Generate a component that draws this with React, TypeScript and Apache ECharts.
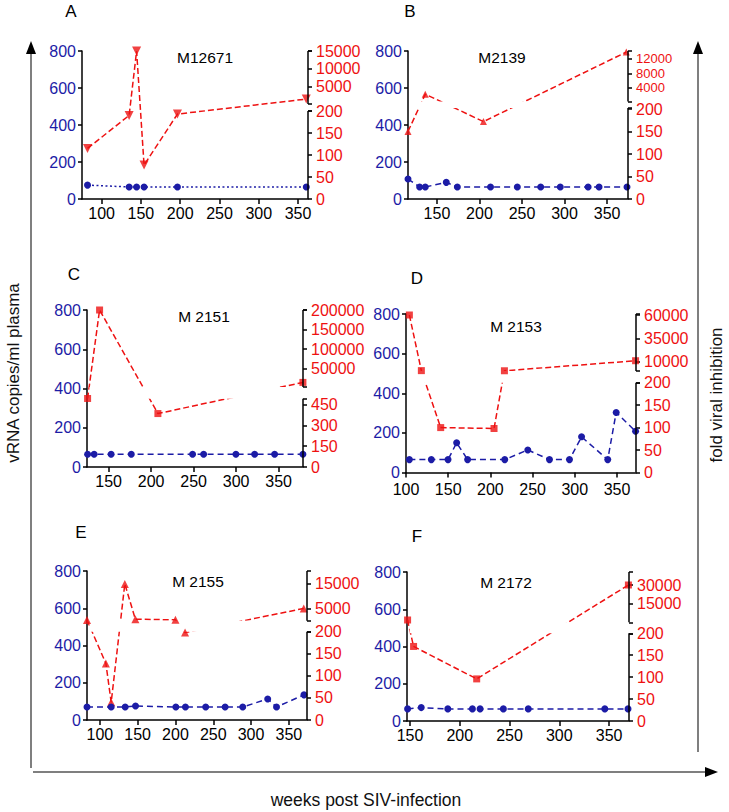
import React, { useEffect, useRef } from 'react';
import * as echarts from 'echarts';

// ---------------- data (weeks post infection, vRNA copies/ml, fold inhibition) ----------------
const aWeeksBlue = [82, 135, 144.5, 154, 196.5, 360.5];
const aVRNA = [75, 65, 65, 65, 65, 65];
const aWeeksRed = [82, 135, 144.5, 154, 196.5, 360.5];
const aFold = [115, 190, 15000, 77, 193, 1400];

const bWeeksBlue = [116, 129.7, 136.3, 161, 174, 213, 244.5, 272, 295, 327.7, 340.6, 373.4];
const bVRNA = [108, 65, 65, 90, 65, 65, 65, 65, 65, 65, 65, 65];
const bWeeksRed = [116, 136.3, 204.7, 372.6];
const bFold = [150, 2300, 172, 13800];

const cWeeksBlue = [125.3, 133, 153, 176.7, 248.8, 261.8, 299.8, 321.8, 345.3, 378.6];
const cVRNA = [65, 65, 65, 65, 65, 65, 65, 65, 65, 65];
const cWeeksRed = [125.3, 139.4, 208, 378.6];
const cFold = [495, 200000, 386, 15300];

const dWeeksBlue = [104, 130, 149.8, 160, 173, 217, 244.3, 270, 293.7, 308, 339, 349, 372];
const dVRNA = [65, 65, 65, 150, 65, 65, 114, 65, 65, 180, 65, 303, 208];
const dWeeksRed = [104, 118.2, 141.1, 204.3, 216.6, 372];
const dFold = [60000, 400, 100, 98, 250, 11000];

const eWeeksBlue = [83, 115, 133.5, 147.2, 200.5, 213.2, 240, 265.7, 289, 322, 333.7, 370];
const eVRNA = [70, 70, 70, 75, 70, 70, 70, 70, 70, 113, 70, 135];
const eWeeksRed = [83, 108, 115, 133, 147, 200, 212.7, 369.7];
const eFold = [300, 128, 40, 15000, 600, 350, 198, 5000];

const fWeeksBlue = [147.6, 161.3, 188, 212.7, 220.4, 243.8, 268.8, 345.7, 369];
const fVRNA = [65, 72, 65, 65, 65, 65, 65, 65, 65];
const fWeeksRed = [147.6, 153.6, 217, 369.4];
const fFold = [1400, 170, 96, 30000];

const xTicks100 = [100, 150, 200, 250, 300, 350];
const xTicks150 = [150, 200, 250, 300, 350];
const lowTicks50 = [0, 50, 100, 150, 200];
const lowTicksC = [0, 150, 300, 450];
const upTicksA = [5000, 10000, 15000];
const upTicksB = [4000, 8000, 12000];
const upTicksC = [50000, 100000, 150000, 200000];
const upTicksD = [10000, 35000, 60000];
const upTicksE = [5000, 15000];
const upTicksF = [15000, 30000];

const panelLetters = ['A', 'B', 'C', 'D', 'E', 'F'];
const monkeys = ['M12671', 'M2139', 'M 2151', 'M 2153', 'M 2155', 'M 2172'];

// ---------------- layout / styles ----------------
const BLUE = '#1c1ca6';
const RED = '#ee1111';
const FONT = '"Liberation Sans", Arial, sans-serif';
const NARROW = '"Liberation Sans Narrow", "Liberation Sans", Arial, sans-serif';
const TICK_FONT = 16;

const panels = [
  { grid: { left: 82, top: 51, width: 226, height: 148 }, xMin: 75, xMax: 362.7, xTicks: xTicks100, xMargin: 6,
    bx: aWeeksBlue, by: aVRNA, rx: aWeeksRed, ry: aFold, blueDash: [2, 2.5], sym: 'triangle', rot: 180, symSize: 9,
    lowLimit: 200, lowK: 0.44, upH0: 95, upK: 53 / 15000, lowSegTop: 88, upSegBot: 95, band: false, upFont: 16,
    lowTicks: lowTicks50, upTicks: upTicksA, letter: [71, 11], title: [205, 57] },
  { grid: { left: 408, top: 51, width: 220, height: 148 }, xMin: 116, xMax: 374.6, xTicks: xTicks150, xMargin: 6,
    bx: bWeeksBlue, by: bVRNA, rx: bWeeksRed, ry: bFold, blueDash: [6, 4], sym: 'triangle', rot: 0, symSize: 7,
    lowLimit: 200, lowK: 0.45, upH0: 96.4, upK: 0.00366, lowSegTop: 91, upSegBot: 97.6, band: true, upFont: 13,
    lowTicks: lowTicks50, upTicks: upTicksB, letter: [410, 11], title: [502, 57] },
  { grid: { left: 87, top: 310, width: 216, height: 157 }, xMin: 124.6, xMax: 378.7, xTicks: xTicks150, xMargin: 6,
    bx: cWeeksBlue, by: cVRNA, rx: cWeeksRed, ry: cFold, blueDash: [6, 4], sym: 'rect', rot: 0, symSize: 7,
    lowLimit: 500, lowK: 62.3 / 450, upH0: 78.6, upK: 0.000392, lowSegTop: 68.3, upSegBot: 80, band: true, upFont: 16,
    lowTicks: lowTicksC, upTicks: upTicksC, letter: [74, 274], title: [204, 316] },
  { grid: { left: 406, top: 314, width: 230, height: 158.5 }, xMin: 100, xMax: 372.5, xTicks: xTicks100, xMargin: 9,
    bx: dWeeksBlue, by: dVRNA, rx: dWeeksRed, ry: dFold, blueDash: [6, 4], sym: 'rect', rot: 0, symSize: 7,
    lowLimit: 200, lowK: 0.449, upH0: 101.5, upK: 56 / 60000, lowSegTop: 89.8, upSegBot: 101.5, band: true, upFont: 16,
    lowTicks: lowTicks50, upTicks: upTicksD, letter: [417, 278], title: [516, 326] },
  { grid: { left: 87, top: 571, width: 220, height: 149 }, xMin: 83, xMax: 374, xTicks: xTicks100, xMargin: 6,
    bx: eWeeksBlue, by: eVRNA, rx: eWeeksRed, ry: eFold, blueDash: [6, 4], sym: 'triangle', rot: 0, symSize: 8,
    lowLimit: 200, lowK: 0.4415, upH0: 99.3, upK: 49 / 20000, lowSegTop: 88.3, upSegBot: 99.3, band: true, upFont: 16,
    lowTicks: lowTicks50, upTicks: upTicksE, letter: [81, 532], title: [198, 581] },
  { grid: { left: 407, top: 572, width: 222, height: 149 }, xMin: 147, xMax: 370, xTicks: xTicks150, xMargin: 6,
    bx: fWeeksBlue, by: fVRNA, rx: fWeeksRed, ry: fFold, blueDash: [6, 4], sym: 'rect', rot: 0, symSize: 7,
    lowLimit: 200, lowK: 0.4385, upH0: 99.3, upK: 36.7 / 30000, lowSegTop: 87.7, upSegBot: 98.7, band: true, upFont: 16,
    lowTicks: lowTicks50, upTicks: upTicksF, letter: [417, 536], title: [506, 582] },
];

function zip(xs: number[], ys: number[]) {
  return xs.map((x, i) => [x, ys[i]]);
}

function buildOption() {
  const grid: any[] = [];
  const xAxis: any[] = [];
  const yAxis: any[] = [];
  const series: any[] = [];
  const graphic: any[] = [];
  const axisLineStyle = { color: '#000', width: 1.5 };

  panels.forEach((p, i) => {
    const toU = (v: number) => (v <= p.lowLimit ? v * p.lowK : p.upH0 + v * p.upK);
    const labs = [
      ...p.lowTicks.map((v) => ({ u: toU(v), t: String(v) })),
      ...p.upTicks.map((v) => ({ u: toU(v), t: '{u|' + String(v) + '}' })),
    ];
    const labU = labs.map((l) => l.u);
    const tickU = [...labU, p.lowSegTop, p.upSegBot, p.grid.height];
    const H = p.grid.height;
    const range = p.xMax - p.xMin;
    const fmt = (val: number) => {
      let best = labs[0];
      labs.forEach((l) => { if (Math.abs(l.u - val) < Math.abs(best.u - val)) best = l; });
      return best.t;
    };
    const rich = { u: { fontSize: p.upFont, color: RED, fontFamily: FONT } };
    const yLeft = 3 * i;
    const yRight = 3 * i + 1;

    grid.push({ ...p.grid });
    xAxis.push({
      type: 'value', gridIndex: i, min: p.xMin, max: p.xMax,
      axisLine: { show: true, onZero: false, lineStyle: axisLineStyle },
      axisTick: { show: true, length: 5, customValues: p.xTicks, lineStyle: axisLineStyle },
      axisLabel: { customValues: p.xTicks, color: '#000', fontSize: TICK_FONT, margin: p.xMargin, fontFamily: FONT, hideOverlap: false },
      splitLine: { show: false },
    });
    yAxis.push({
      type: 'value', gridIndex: i, position: 'left', min: 0, max: 800, interval: 200,
      axisLine: { show: true, onZero: false, lineStyle: axisLineStyle },
      axisTick: { show: true, length: 4, lineStyle: axisLineStyle },
      axisLabel: { color: BLUE, fontSize: TICK_FONT, margin: 6, fontFamily: FONT, hideOverlap: false },
      splitLine: { show: false },
    });
    // right axis (broken scale): ticks + labels at even positions
    yAxis.push({
      type: 'value', gridIndex: i, position: 'right', min: 0, max: H,
      axisLine: { show: false },
      axisTick: { show: true, length: 4, customValues: tickU, lineStyle: axisLineStyle },
      axisLabel: {
        customValues: labU.filter((_, k) => k % 2 === 0), color: RED, fontSize: TICK_FONT, margin: 8, fontFamily: FONT,
        hideOverlap: false, formatter: fmt, rich,
      },
      splitLine: { show: false },
    });
    // companion right axis carrying the remaining labels (same scale)
    yAxis.push({
      type: 'value', gridIndex: i, position: 'right', min: 0, max: H,
      axisLine: { show: false }, axisTick: { show: false },
      axisLabel: {
        customValues: labU.filter((_, k) => k % 2 === 1), color: RED, fontSize: TICK_FONT, margin: 8, fontFamily: FONT,
        hideOverlap: false, formatter: fmt, rich,
      },
      splitLine: { show: false },
    });

    const redU = zip(p.rx, p.ry.map(toU));
    series.push({
      type: 'line', xAxisIndex: i, yAxisIndex: yRight, data: redU, symbol: 'none', z: 2, silent: true,
      lineStyle: { color: RED, width: 1.5, type: [6, 3] },
    });
    if (p.band) {
      series.push({
        type: 'scatter', xAxisIndex: i, yAxisIndex: yRight, data: [], z: 3, silent: true,
        markArea: {
          z: 3, silent: true, itemStyle: { color: '#fff', opacity: 1 }, label: { show: false },
          data: [[{ coord: [p.xMin + range * 0.012, p.lowSegTop] }, { coord: [p.xMax - range * 0.012, p.upSegBot] }]],
        },
      });
    }
    series.push({
      type: 'scatter', xAxisIndex: i, yAxisIndex: yRight, data: redU, z: 4, silent: true,
      symbol: p.sym, symbolRotate: p.rot, symbolSize: p.symSize, itemStyle: { color: RED },
    });
    series.push({
      type: 'line', xAxisIndex: i, yAxisIndex: yLeft, data: zip(p.bx, p.by), z: 6, silent: true,
      symbol: 'circle', symbolSize: 7, itemStyle: { color: BLUE },
      lineStyle: { color: BLUE, width: 1.5, type: p.blueDash },
    });
    series.push({
      type: 'scatter', xAxisIndex: i, yAxisIndex: yRight, data: [], z: 7, silent: true,
      markLine: {
        z: 7, silent: true, symbol: ['none', 'none'], label: { show: false },
        lineStyle: { color: '#000', width: 1.5, type: 'solid' },
        data: [
          [{ coord: [p.xMax, 0] }, { coord: [p.xMax, p.lowSegTop] }],
          [{ coord: [p.xMax, p.upSegBot] }, { coord: [p.xMax, H] }],
        ],
      },
    });

    graphic.push({
      type: 'text', x: p.letter[0], y: p.letter[1],
      style: { text: panelLetters[i], fontSize: 17, fontFamily: FONT, fill: '#000', align: 'center', verticalAlign: 'middle' },
    });
    graphic.push({
      type: 'text', x: p.title[0], y: p.title[1],
      style: { text: monkeys[i], fontSize: 15.5, fontFamily: FONT, fill: '#000', align: 'center', verticalAlign: 'middle' },
    });
  });

  const arrowColor = '#555';
  graphic.push(
    { type: 'line', shape: { x1: 31, y1: 768, x2: 31, y2: 50 }, style: { stroke: arrowColor, lineWidth: 1.5 } },
    { type: 'polygon', shape: { points: [[31, 41], [26, 54], [36, 54]] }, style: { fill: '#000' } },
    { type: 'line', shape: { x1: 698, y1: 752, x2: 698, y2: 50 }, style: { stroke: arrowColor, lineWidth: 1.5 } },
    { type: 'polygon', shape: { points: [[698, 41], [693, 54], [703, 54]] }, style: { fill: '#000' } },
    { type: 'line', shape: { x1: 33, y1: 772, x2: 706, y2: 772 }, style: { stroke: arrowColor, lineWidth: 1.5 } },
    { type: 'polygon', shape: { points: [[718, 772], [705, 767], [705, 777]] }, style: { fill: '#000' } },
    {
      type: 'text', x: 13, y: 373, rotation: Math.PI / 2,
      style: { text: 'vRNA copies/ml plasma', fontSize: 17, fontFamily: NARROW, fill: '#111', align: 'center', verticalAlign: 'middle' },
    },
    {
      type: 'text', x: 716, y: 395, rotation: Math.PI / 2,
      style: { text: 'fold viral inhibition', fontSize: 17, fontFamily: NARROW, fill: '#111', align: 'center', verticalAlign: 'middle' },
    },
    {
      type: 'text', x: 366, y: 800,
      style: { text: 'weeks post SIV-infection', fontSize: 17.5, fontFamily: NARROW, fill: '#111', align: 'center', verticalAlign: 'middle' },
    },
  );

  return { animation: false, backgroundColor: '#fff', grid, xAxis, yAxis, series, graphic };
}

export default function App() {
  const ref = useRef<HTMLDivElement>(null);
  useEffect(() => {
    if (!ref.current) return;
    const chart = echarts.init(ref.current, null, { renderer: 'svg' });
    chart.setOption(buildOption() as any);
    return () => chart.dispose();
  }, []);
  return <div ref={ref} style={{ position: 'absolute', left: 0, top: 0, width: 729, height: 812 }} />;
}
